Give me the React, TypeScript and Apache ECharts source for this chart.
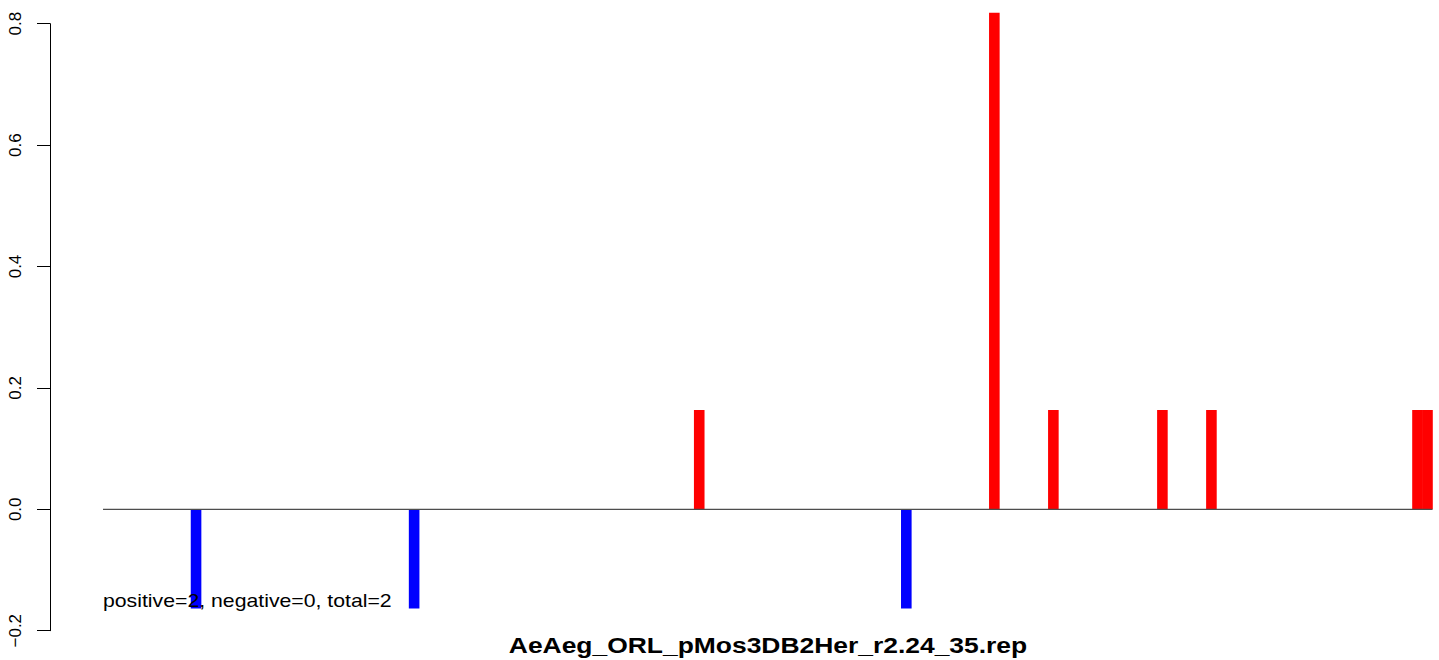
import React, { useEffect, useRef } from "react";
import * as echarts from "echarts";

// Positions along the sequence (same units as x axis) and values
const positivePositions = [596, 891, 950, 1059, 1108, 1314, 1324];
const positiveValues = [0.1636, 0.818, 0.1636, 0.1636, 0.1636, 0.1636, 0.1636];
const negativePositions = [93, 311, 803];
const negativeValues = [-0.1636, -0.1636, -0.1636];
const seqStart = 0;
const seqEnd = 1329;
const yTicks = [-0.2, 0, 0.2, 0.4, 0.6, 0.8];
const titleText = "AeAeg_ORL_pMos3DB2Her_r2.24_35.rep";
const summaryText = "positive=2, negative=0, total=2";

export default function App() {
  const ref = useRef<HTMLDivElement>(null);
  useEffect(() => {
    if (!ref.current) return;
    const chart = echarts.init(ref.current, undefined, { renderer: "svg" });
    const barData = [
      ...negativePositions.map((p, i) => ({ value: [p, negativeValues[i]], itemStyle: { color: "#0000ff" } })),
      ...positivePositions.map((p, i) => ({ value: [p, positiveValues[i]], itemStyle: { color: "#ff0000" } })),
    ];
    chart.setOption({
      animation: false,
      backgroundColor: "#ffffff",
      grid: { left: 50, right: 6.5, top: 23.7, bottom: 29.3, containLabel: false },
      xAxis: {
        type: "value",
        min: -53,
        max: seqEnd,
        show: false,
        splitLine: { show: false },
      },
      yAxis: {
        type: "value",
        min: yTicks[0],
        max: yTicks[yTicks.length - 1],
        interval: 0.2,
        splitLine: { show: false },
        axisLine: { show: true, onZero: false, lineStyle: { color: "#000", width: 1 } },
        axisTick: { show: true, length: 13, lineStyle: { color: "#000", width: 1 } },
        axisLabel: {
          rotate: 90,
          margin: 26,
          fontSize: 17,
          color: "#000",
          fontFamily: "Liberation Sans, Arial, sans-serif",
          formatter: (v: number) => v.toFixed(1).replace("-", "\u2212"),
        },
      },
      series: [
        {
          type: "bar",
          data: barData,
          barWidth: 10.6,
          clip: false,
          z: 2,
        },
        {
          type: "line",
          data: [[seqStart, 0], [seqEnd, 0]],
          symbol: "none",
          lineStyle: { color: "#4d4d4d", width: 1.2 },
          z: 3,
          silent: true,
        },
      ],
      graphic: [
        {
          type: "text",
          x: 103,
          y: 601,
          scaleX: 1.2,
          z: 10,
          style: {
            text: summaryText,
            fontSize: 17.7,
            fontFamily: "Liberation Sans, Arial, sans-serif",
            fill: "#000",
            align: "left",
            verticalAlign: "middle",
          },
        },
        {
          type: "text",
          x: 768,
          y: 645,
          scaleX: 1.23,
          z: 10,
          style: {
            text: titleText,
            fontSize: 21.5,
            fontWeight: "bold",
            fontFamily: "Liberation Sans, Arial, sans-serif",
            fill: "#000",
            align: "center",
            verticalAlign: "middle",
          },
        },
      ],
    });
    return () => chart.dispose();
  }, []);
  return (
    <div
      ref={ref}
      style={{ position: "fixed", left: 0, top: 0, width: 1439, height: 660, background: "#fff" }}
    />
  );
}
